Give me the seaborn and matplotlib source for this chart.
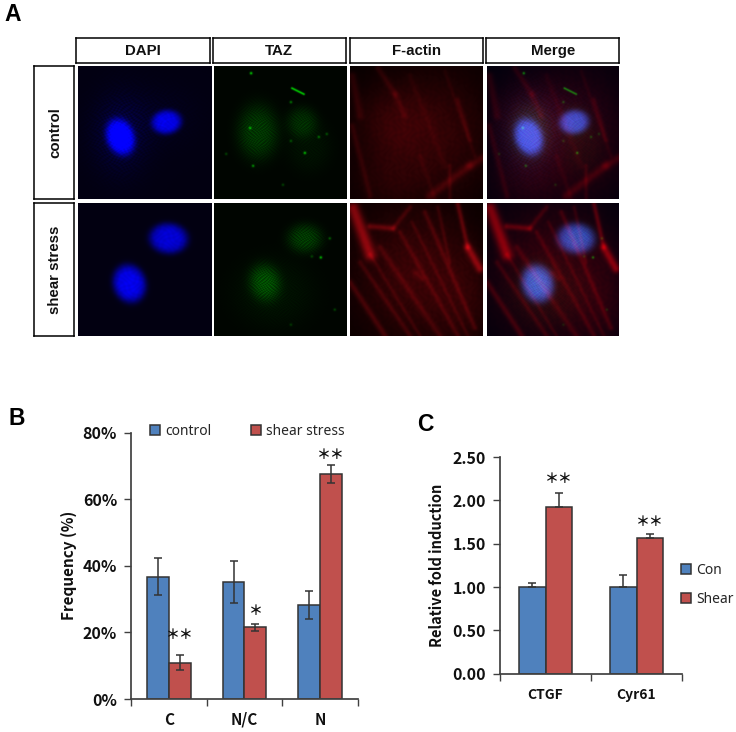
import numpy as np
import pandas as pd
import seaborn as sns
import matplotlib.pyplot as plt

W, H = 736, 732

# panel B
loc_cats = ["C", "N/C", "N"]
loc_control = [36.7, 35.2, 28.1]
loc_shear = [10.9, 21.5, 67.7]
loc_control_err = [5.6, 6.3, 4.2]
loc_shear_err = [2.2, 1.1, 2.7]

# panel C
gene_cats = ["CTGF", "Cyr61"]
gene_con = [1.0, 1.0]
gene_shear = [1.92, 1.57]
gene_con_err = [0.05, 0.14]
gene_shear_err = [0.16, 0.04]

# panel A labels
channels = ["DAPI", "TAZ", "F-actin", "Merge"]
conditions = ["control", "shear stress"]

# micrograph features, in px inside a 133 px tile: cx, cy, rx, ry, angle, strength
nuclei_control = [(42, 71, 14, 19, -20, 0.95), (88, 56, 15, 12, -8, 0.85)]
nuclei_shear = [(90, 36, 19, 15, 5, 0.8), (51, 81, 16, 19, -18, 0.9)]
haze_control = [(42, 68, 25, 36, 0, 0.3), (80, 50, 34, 28, 0, 0.08)]
taz_control = [(44, 66, 20, 27, 0, 0.34), (88, 56, 15, 15, 0, 0.24), (95, 80, 22, 26, 0, 0.08)]
taz_shear = [(91, 36, 17, 14, 0, 0.36), (51, 80, 15, 18, -15, 0.42), (60, 90, 40, 35, 0, 0.08)]
spots_control = [(37, 7, 0.8), (91, 87, 0.7), (39, 100, 0.55), (105, 71, 0.4), (77, 36, 0.45),
                 (36, 62, 0.6), (113, 68, 0.3), (77, 75, 0.3), (12, 88, 0.25), (69, 119, 0.25)]
spots_shear = [(107, 55, 0.7), (116, 36, 0.35), (98, 54, 0.25), (121, 107, 0.25), (77, 122, 0.2)]
streak_taz_control = [(78, 22, 90, 28, 1.0, 0.8)]
# actin fibres: x0, y0, x1, y1, width, strength
actin_control = [(2, 10, 10, 50, 4, 0.11), (28, 2, 45, 28, 3, 0.1), (45, 28, 55, 50, 3, 0.1),
                 (108, 34, 120, 74, 2.5, 0.1), (80, 130, 120, 100, 4, 0.15), (120, 100, 133, 92, 4, 0.15),
                 (2, 60, 20, 130, 3, 0.1), (60, 10, 95, 100, 3, 0.05), (95, 5, 125, 90, 2, 0.05),
                 (70, 90, 85, 133, 2.5, 0.06), (100, 100, 100, 133, 2, 0.1)]
actin_shear = [(3, 6, 20, 52, 6, 0.45), (20, 24, 43, 26, 3, 0.26), (108, 2, 118, 45, 2.5, 0.26),
               (118, 45, 130, 66, 4, 0.42), (10, 60, 60, 133, 2.5, 0.13), (30, 45, 90, 133, 3, 0.13),
               (50, 30, 108, 133, 2.5, 0.13), (75, 10, 125, 125, 2.5, 0.15), (0, 80, 35, 133, 3, 0.17),
               (43, 26, 60, 5, 2.5, 0.14), (88, 5, 100, 60, 2, 0.11), (65, 70, 72, 76, 3, 0.12),
               (20, 52, 70, 133, 2, 0.1), (62, 20, 118, 133, 2, 0.1)]
actin_haze_control = [(45, 60, 40, 45, 0, 0.2), (100, 70, 45, 70, 0, 0.15), (40, 120, 40, 30, 0, 0.1)]
actin_haze_shear = [(65, 70, 60, 70, 0, 0.22), (115, 100, 30, 50, 0, 0.1)]

yy, xx = np.mgrid[0:133:266j, 0:133:266j]


def blob(cx, cy, rx, ry, ang, amp, sharp=1):
    a = np.deg2rad(ang)
    u = (xx - cx) * np.cos(a) + (yy - cy) * np.sin(a)
    v = -(xx - cx) * np.sin(a) + (yy - cy) * np.cos(a)
    d = (u / rx) ** 2 + (v / ry) ** 2
    return amp * np.exp(-d ** sharp)


def fibre(x0, y0, x1, y1, w, amp):
    dx, dy = x1 - x0, y1 - y0
    t = np.clip(((xx - x0) * dx + (yy - y0) * dy) / (dx * dx + dy * dy), 0, 1)
    d2 = (xx - x0 - t * dx) ** 2 + (yy - y0 - t * dy) ** 2
    return amp * np.exp(-d2 / (w * w))


def grain(a, b):
    s = np.sin(xx * a + 2 * np.sin(yy * 0.37)) * np.sin(yy * b + 2 * np.cos(xx * 0.29))
    return 0.55 + 0.45 * s


def tile_channels(nuc, haze, taz, spots, streaks, actin, actin_haze):
    blue = sum(blob(*n, sharp=2.5) for n in nuc) * (0.88 + 0.12 * grain(0.8, 0.9))
    blue = blue + sum([blob(*h) for h in haze], np.zeros_like(xx)) * grain(1.3, 1.7)
    green = sum(blob(*t, sharp=1.5) for t in taz) * grain(1.9, 2.3)
    green = green + sum(blob(x, y, 1.3, 1.3, 0, a) for x, y, a in spots)
    for s in streaks:
        green = green + fibre(*s)
    red = sum(fibre(*f) for f in actin) + sum(blob(*h) for h in actin_haze) * (0.8 + 0.2 * grain(0.7, 0.5))
    return np.clip(blue, 0, 1), np.clip(green, 0, 1), np.clip(red, 0, 1)


def rgb(r, g, b):
    return np.clip(np.dstack([r, g, b]), 0, 1)


def px_axes(x0, y0, x1, y1):
    return fig.add_axes([x0 / W, 1 - y1 / H, (x1 - x0) / W, (y1 - y0) / H])


sns.set_theme(style="white")
plt.rcParams["font.family"] = ["Liberation Sans", "DejaVu Sans"]
fig = plt.figure(figsize=(W / 100, H / 100), dpi=100)

# panel A
col_x = [(78, 211), (214, 347), (350, 483), (487, 619)]
head_x = [(76, 210), (212.5, 346), (350, 483), (486.5, 619.5)]
row_y = [(66, 199), (203, 336)]
tiles = [tile_channels(nuclei_control, haze_control, taz_control, spots_control, streak_taz_control,
                       actin_control, actin_haze_control),
         tile_channels(nuclei_shear, [], taz_shear, spots_shear, [], actin_shear, actin_haze_shear)]
for j, name in enumerate(channels):
    ax = px_axes(head_x[j][0], 37.5, head_x[j][1], 63)
    ax.set_xticks([])
    ax.set_yticks([])
    for s in ax.spines.values():
        s.set_visible(True)
        s.set_color("black")
        s.set_linewidth(1.1)
    ax.text(0.5, 0.48, name, transform=ax.transAxes, ha="center", va="center",
            fontsize=10.8, fontweight="bold", color="#111111")
for i, name in enumerate(conditions):
    ax = px_axes(34, row_y[i][0], 74, row_y[i][1])
    ax.set_xticks([])
    ax.set_yticks([])
    for s in ax.spines.values():
        s.set_visible(True)
        s.set_color("black")
        s.set_linewidth(1.1)
    ax.text(0.53, 0.5, name, transform=ax.transAxes, ha="center", va="center", rotation=90,
            fontsize=10.8, fontweight="bold", color="#111111")
    b, g, r = tiles[i]
    zero = np.zeros_like(b)
    images = [rgb(zero + 0.01, zero, b + 0.07), rgb(zero, g + 0.02, zero), rgb(r + 0.02, r * 0.05, r * 0.1),
              rgb(r + 0.12 * b, g * 0.6 + 0.25 * b, b * 0.85 + 0.05)]
    for j in range(4):
        ax = px_axes(col_x[j][0], row_y[i][0], col_x[j][1], row_y[i][1])
        ax.imshow(images[j], aspect="auto", interpolation="bilinear")
        ax.set_xticks([])
        ax.set_yticks([])
        for s in ax.spines.values():
            s.set_visible(False)

blue_c, red_c = "#4F81BD", "#C0504D"
edge = "#333333"
axis_c = "#404040"
bold_font = ["Noto Sans CJK KR", "DejaVu Sans"]
plain_font = ["Noto Sans", "DejaVu Sans"]


def bar_panel(ax, cats, names, v1, v2, e1, e2, both_sides):
    df = pd.DataFrame({"cat": list(cats) * 2, "series": [names[0]] * len(cats) + [names[1]] * len(cats),
                       "val": list(v1) + list(v2)})
    sns.barplot(data=df, x="cat", y="val", hue="series", palette=[blue_c, red_c], width=0.58, gap=0,
                edgecolor=edge, linewidth=1.1, saturation=1, errorbar=None, ax=ax)
    for cont, errs in zip(ax.containers, [e1, e2]):
        for rect, e in zip(cont, errs):
            x = rect.get_x() + rect.get_width() / 2
            yerr = e if both_sides else [[0], [e]]
            ax.errorbar(x, rect.get_height(), yerr=yerr, color=edge, elinewidth=1.1, capsize=2.6,
                        capthick=1.1, zorder=5)
    n = len(cats)
    ax.set_xlim(-0.5, n - 0.5)
    ax.set_xticks(np.arange(n + 1) - 0.5)
    ax.set_xticklabels([])
    ax.set_xticks(np.arange(n), cats, minor=True)
    ax.tick_params(axis="x", which="minor", length=0, pad=18.5)
    ax.tick_params(axis="x", which="major", length=5, width=1, color=axis_c, bottom=True)
    ax.tick_params(axis="y", length=5, width=1, color=axis_c, left=True, pad=5)
    sns.despine(ax=ax)
    ax.spines["left"].set_color(axis_c)
    ax.spines["bottom"].set_color(axis_c)
    for lab in ax.get_xticklabels(minor=True):
        lab.set_family(bold_font)
        lab.set_fontweight("bold")
        lab.set_fontsize(11)
        lab.set_color("#111111")
        lab.set_verticalalignment("baseline")


# panel B
axb = px_axes(131, 432.7, 358, 699)
bar_panel(axb, loc_cats, ["control", "shear stress"], loc_control, loc_shear,
          loc_control_err, loc_shear_err, True)
axb.set_ylim(0, 80)
axb.set_yticks([0, 20, 40, 60, 80], ["0%", "20%", "40%", "60%", "80%"], family=bold_font,
               fontweight="bold", fontsize=11.5, color="#111111")
axb.set_ylabel("Frequency (%)", family=bold_font, fontweight="bold", fontsize=11, color="#111111", labelpad=4)
axb.set_xlabel("")
h, l = axb.get_legend_handles_labels()
axb.legend(h, l, loc="center left", bbox_to_anchor=(150 / W, 1 - 431.5 / H), bbox_transform=fig.transFigure,
           ncol=2, frameon=False, handlelength=0.72, handleheight=0.72, handletextpad=0.35, columnspacing=2.9,
           borderpad=0, borderaxespad=0, prop={"family": plain_font, "size": 10})

# panel C
axc = px_axes(500, 457, 682, 673.7)
bar_panel(axc, gene_cats, ["Con", "Shear"], gene_con, gene_shear, gene_con_err, gene_shear_err, False)
axc.set_ylim(0, 2.5)
axc.set_yticks([0, 0.5, 1, 1.5, 2, 2.5], ["0.00", "0.50", "1.00", "1.50", "2.00", "2.50"], family=bold_font,
               fontweight="bold", fontsize=11.5, color="#111111")
axc.set_ylabel("Relative fold induction", family=bold_font, fontweight="bold", fontsize=10.5, color="#111111", labelpad=5.5)
axc.set_xlabel("")
for lab in axc.get_xticklabels(minor=True):
    lab.set_fontsize(10)
h, l = axc.get_legend_handles_labels()
axc.legend(h, l, loc="center left", bbox_to_anchor=(681 / W, 1 - 585 / H), bbox_transform=fig.transFigure,
           ncol=1, frameon=False, handlelength=0.72, handleheight=0.72, handletextpad=0.35, labelspacing=1.0,
           borderpad=0, borderaxespad=0, prop={"family": plain_font, "size": 10})

# significance marks
star_font = ["Noto Sans CJK JP", "DejaVu Sans"]
for ax, rects, marks, ys in [(axb, axb.containers[1], ["＊＊", "＊", "＊＊"], [19.2, 26.4, 73.3]),
                             (axc, axc.containers[1], ["＊＊", "＊＊"], [2.25, 1.75])]:
    for rect, mark, y in zip(rects, marks, ys):
        ax.text(rect.get_x() + rect.get_width() / 2, y, mark, ha="center", va="center",
                family=star_font, fontsize=10, fontweight="bold", color="#111111")

for letter, x, y in [("A", 4, 21), ("B", 8, 425), ("C", 417, 431)]:
    fig.text(x / W, 1 - y / H, letter, fontsize=16.5, fontweight="bold", color="black", ha="left", va="baseline")

fig.savefig("out.png", dpi=100)
